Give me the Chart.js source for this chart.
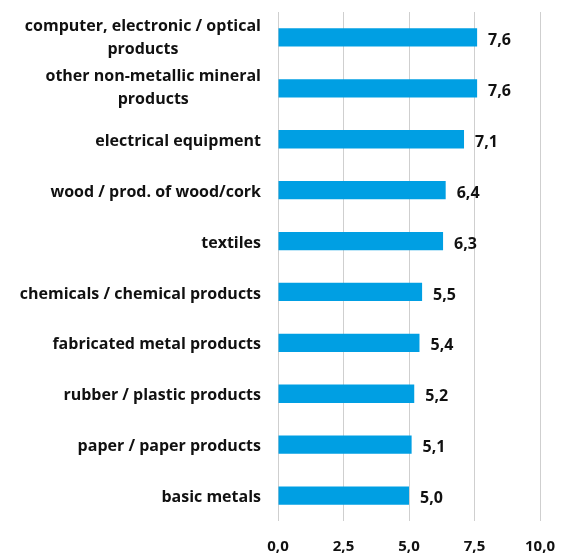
<!DOCTYPE html>
<html><head><meta charset="utf-8">
<script src="https://cdn.jsdelivr.net/npm/chart.js@4"></script>
<style>html,body{margin:0;padding:0;background:#fff}#wrap{width:563px;height:553px}</style>
</head><body><div id="wrap"><canvas id="c" width="563" height="553"></canvas></div>
<script>
const categories = [
  ["computer, electronic / optical", "products"],
  ["other non-metallic mineral", "products"],
  ["electrical equipment"],
  ["wood / prod. of wood/cork"],
  ["textiles"],
  ["chemicals / chemical products"],
  ["fabricated metal products"],
  ["rubber / plastic products"],
  ["paper / paper products"],
  ["basic metals"]
];
const values = [7.6, 7.6, 7.1, 6.4, 6.3, 5.5, 5.4, 5.2, 5.1, 5.0];
const xTicks = [0, 2.5, 5, 7.5, 10];

const FONT = '"Open Sans", "Noto Sans", sans-serif';
const fmt = v => v.toFixed(1).replace('.', ',');

const labelPlugin = {
  id: 'labels',
  afterDatasetsDraw(chart) {
    const ctx = chart.ctx;
    const ys = chart.scales.y;
    ctx.save();
    ctx.fillStyle = '#111111';
    ctx.font = 'bold 16px ' + FONT;
    ctx.textBaseline = 'middle';
    const rightEdge = 261, lh = 23;
    categories.forEach((lines, i) => {
      const cy = ys.getPixelForValue(i);
      if (lines.length === 1) {
        ctx.textAlign = 'right';
        ctx.fillText(lines[0], rightEdge, cy + 2);
      } else {
        const w = Math.max(...lines.map(l => ctx.measureText(l).width));
        const cx = rightEdge - w / 2;
        ctx.textAlign = 'center';
        const top = cy - (lines.length - 1) * lh / 2;
        lines.forEach((l, k) => ctx.fillText(l, cx, top + k * lh));
      }
    });
    const meta = chart.getDatasetMeta(0);
    ctx.textAlign = 'left';
    meta.data.forEach((bar, i) => {
      ctx.fillText(fmt(values[i]), bar.x + 11, bar.y + 3);
    });
    ctx.restore();
  }
};

new Chart(document.getElementById('c'), {
  type: 'bar',
  data: {
    labels: categories,
    datasets: [{
      data: values,
      backgroundColor: '#009fe3',
      barPercentage: 0.36,
      categoryPercentage: 1
    }]
  },
  options: {
    indexAxis: 'y',
    responsive: false,
    animation: false,
    layout: { padding: { left: 278, right: 23, top: 12, bottom: 0 } },
    plugins: { legend: { display: false }, tooltip: { enabled: false } },
    scales: {
      y: { display: false },
      x: {
        min: 0, max: 10,
        afterBuildTicks: s => { s.ticks = xTicks.map(v => ({ value: v })); },
        afterFit: s => { s.height = 32; s.paddingLeft = 0; s.paddingRight = 0; },
        grid: { color: '#cfcfcf', lineWidth: 1, drawTicks: false },
        border: { display: false },
        ticks: {
          padding: 17,
          color: '#111111',
          font: { family: FONT, size: 15, weight: 'bold' },
          callback: v => fmt(v)
        }
      }
    }
  },
  plugins: [labelPlugin]
});
</script>
</body></html>
